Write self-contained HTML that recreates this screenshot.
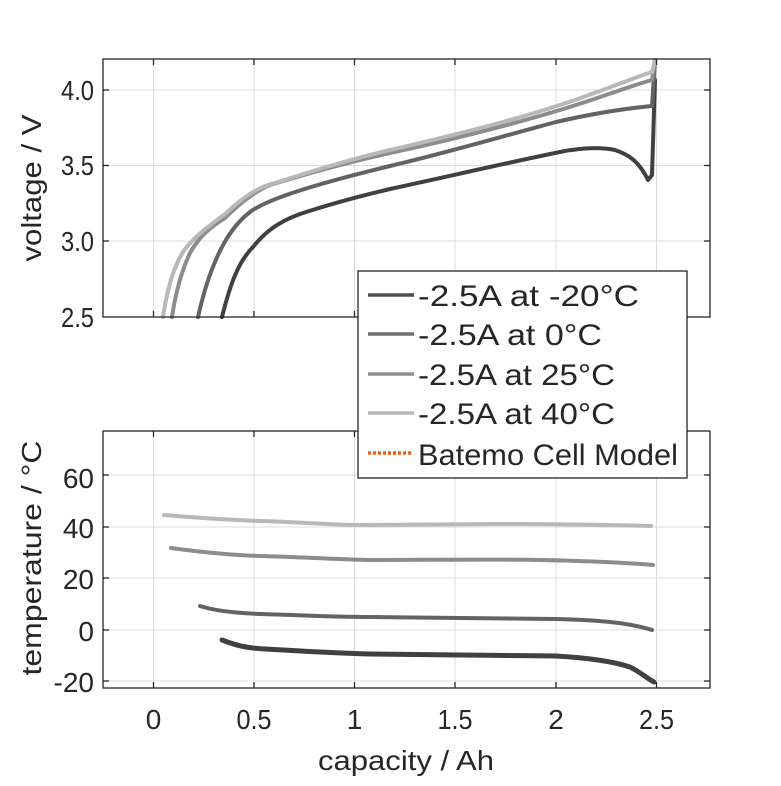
<!DOCTYPE html>
<html><head><meta charset="utf-8"><style>
html,body{margin:0;padding:0;background:#fff;}
svg text{font-family:"Liberation Sans",Arial,sans-serif;fill:#262626;}
</style></head><body>
<svg width="781" height="781" viewBox="0 0 781 781" xmlns="http://www.w3.org/2000/svg">
<rect width="781" height="781" fill="#fff"/>
<!-- top axes -->
<g stroke="#dcdcdc" stroke-width="1">
<line x1="153.5" y1="59" x2="153.5" y2="317"/><line x1="254" y1="59" x2="254" y2="317"/>
<line x1="354.5" y1="59" x2="354.5" y2="317"/><line x1="455" y1="59" x2="455" y2="317"/>
<line x1="556" y1="59" x2="556" y2="317"/><line x1="656.5" y1="59" x2="656.5" y2="317"/>
<line x1="103" y1="90" x2="710" y2="90"/><line x1="103" y1="165.5" x2="710" y2="165.5"/><line x1="103" y1="241" x2="710" y2="241"/>
</g>
<g fill="none" stroke-width="4" stroke-linejoin="round" stroke-linecap="round">
<path stroke="#404040" d="M222,317 C230,285 238,262 253,247 C265,232 278,222 300,214 C330,204 360,196 390,189 C450,176 520,160 560,152 C580,148 600,147 615,150 C630,155 640,163 648,180 L652,175 L655,80"/>
<path stroke="#636363" d="M198,317 C203,295 208,278 215,262 C222,245 233,225 250,212 C265,201 300,188 390,166 C450,152 500,137 556,122 C600,112 630,108 652,106 L655,60"/>
<path stroke="#8c8c8c" d="M172,317 C176,290 182,270 190,253 C200,235 212,226 225,218 C240,203 255,191 270,185 C300,176 340,164 390,153 C460,138 520,122 560,110 C600,98 630,86 652,80 L655,60"/>
<path stroke="#b8b8b8" d="M163,317 C167,290 173,268 183,252 C195,235 212,224 225,214 C240,200 255,188 275,183 C300,175 340,162 390,150 C460,134 520,118 560,105 C600,92 630,79 652,72 L655,60"/>
</g>
<rect x="103" y="59" width="607" height="258" fill="none" stroke="#262626" stroke-width="1.3"/>
<g stroke="#262626" stroke-width="1.3">
<line x1="153.5" y1="59" x2="153.5" y2="65"/><line x1="254" y1="59" x2="254" y2="65"/><line x1="354.5" y1="59" x2="354.5" y2="65"/><line x1="455" y1="59" x2="455" y2="65"/><line x1="556" y1="59" x2="556" y2="65"/><line x1="656.5" y1="59" x2="656.5" y2="65"/>
<line x1="153.5" y1="317" x2="153.5" y2="311"/><line x1="254" y1="317" x2="254" y2="311"/><line x1="354.5" y1="317" x2="354.5" y2="311"/><line x1="455" y1="317" x2="455" y2="311"/><line x1="556" y1="317" x2="556" y2="311"/><line x1="656.5" y1="317" x2="656.5" y2="311"/>
<line x1="103" y1="90" x2="109" y2="90"/><line x1="103" y1="165.5" x2="109" y2="165.5"/><line x1="103" y1="241" x2="109" y2="241"/>
<line x1="710" y1="90" x2="704" y2="90"/><line x1="710" y1="165.5" x2="704" y2="165.5"/><line x1="710" y1="241" x2="704" y2="241"/>
</g>
<g font-size="28" text-anchor="end">
<text x="94" y="100" textLength="33" lengthAdjust="spacingAndGlyphs">4.0</text><text x="94" y="175" textLength="33" lengthAdjust="spacingAndGlyphs">3.5</text><text x="94" y="251" textLength="33" lengthAdjust="spacingAndGlyphs">3.0</text><text x="94" y="327" textLength="33" lengthAdjust="spacingAndGlyphs">2.5</text>
</g>
<text x="0" y="0" font-size="28" text-anchor="middle" textLength="147" lengthAdjust="spacingAndGlyphs" transform="translate(41,188) rotate(-90)">voltage / V</text>

<!-- bottom axes -->
<g stroke="#dcdcdc" stroke-width="1">
<line x1="153.5" y1="431" x2="153.5" y2="688"/><line x1="254" y1="431" x2="254" y2="688"/>
<line x1="354.5" y1="431" x2="354.5" y2="688"/><line x1="455" y1="431" x2="455" y2="688"/>
<line x1="556" y1="431" x2="556" y2="688"/><line x1="656.5" y1="431" x2="656.5" y2="688"/>
<line x1="103" y1="475" x2="710" y2="475"/><line x1="103" y1="527" x2="710" y2="527"/><line x1="103" y1="578" x2="710" y2="578"/><line x1="103" y1="630" x2="710" y2="630"/><line x1="103" y1="681" x2="710" y2="681"/>
</g>
<g fill="none" stroke-width="4" stroke-linejoin="round" stroke-linecap="round">
<path stroke="#b8b8b8" d="M164,515 C200,518 230,520 260,521 C300,522 330,525 360,525 C400,525 450,524 500,524 C560,524 610,525 651,526"/>
<path stroke="#8c8c8c" d="M171,548 C200,552 230,555 260,556 C300,557 330,559 370,560 C420,560 480,559 540,560 C590,561 630,563 653,565"/>
<path stroke="#636363" d="M200,606 C215,611 235,613 260,614 C300,615 330,617 370,617 C430,618 500,618 556,619 C600,620 630,623 652,630"/>
<path stroke="#404040" stroke-width="5" d="M222,640 C235,645 245,648 265,649 C300,651 330,653 370,654 C430,655 500,655 556,656 C590,658 615,662 630,667 C640,672 645,677 654,682"/>
</g>
<rect x="103" y="431" width="607" height="257" fill="none" stroke="#262626" stroke-width="1.3"/>
<g stroke="#262626" stroke-width="1.3">
<line x1="153.5" y1="431" x2="153.5" y2="437"/><line x1="254" y1="431" x2="254" y2="437"/><line x1="354.5" y1="431" x2="354.5" y2="437"/><line x1="455" y1="431" x2="455" y2="437"/><line x1="556" y1="431" x2="556" y2="437"/><line x1="656.5" y1="431" x2="656.5" y2="437"/>
<line x1="153.5" y1="688" x2="153.5" y2="682"/><line x1="254" y1="688" x2="254" y2="682"/><line x1="354.5" y1="688" x2="354.5" y2="682"/><line x1="455" y1="688" x2="455" y2="682"/><line x1="556" y1="688" x2="556" y2="682"/><line x1="656.5" y1="688" x2="656.5" y2="682"/>
<line x1="103" y1="475" x2="109" y2="475"/><line x1="103" y1="527" x2="109" y2="527"/><line x1="103" y1="578" x2="109" y2="578"/><line x1="103" y1="630" x2="109" y2="630"/><line x1="103" y1="681" x2="109" y2="681"/>
<line x1="710" y1="475" x2="704" y2="475"/><line x1="710" y1="527" x2="704" y2="527"/><line x1="710" y1="578" x2="704" y2="578"/><line x1="710" y1="630" x2="704" y2="630"/><line x1="710" y1="681" x2="704" y2="681"/>
</g>
<g font-size="28" text-anchor="end">
<text x="94" y="488">60</text><text x="94" y="538">40</text><text x="94" y="589">20</text><text x="94" y="641">0</text><text x="94" y="692">-20</text>
</g>
<g font-size="28" text-anchor="middle">
<text x="153.5" y="729">0</text><text x="254" y="729" textLength="35" lengthAdjust="spacingAndGlyphs">0.5</text><text x="354.5" y="729">1</text><text x="455" y="729" textLength="35" lengthAdjust="spacingAndGlyphs">1.5</text><text x="556" y="729">2</text><text x="656.5" y="729" textLength="35" lengthAdjust="spacingAndGlyphs">2.5</text>
</g>
<text x="406" y="770" font-size="28" text-anchor="middle" textLength="176" lengthAdjust="spacingAndGlyphs">capacity / Ah</text>
<text x="0" y="0" font-size="28" text-anchor="middle" textLength="235" lengthAdjust="spacingAndGlyphs" transform="translate(41,558) rotate(-90)">temperature / °C</text>

<!-- legend -->
<rect x="358" y="271" width="329" height="207" fill="#fff" stroke="#262626" stroke-width="1.3"/>
<g stroke-width="3.5">
<line x1="368" y1="295" x2="414" y2="295" stroke="#505050"/>
<line x1="368" y1="334" x2="414" y2="334" stroke="#707070"/>
<line x1="368" y1="374" x2="414" y2="374" stroke="#909090"/>
<line x1="368" y1="413" x2="414" y2="413" stroke="#b8b8b8"/>
<line x1="368" y1="453" x2="412" y2="453" stroke="#f06010" stroke-dasharray="3,2"/>
</g>
<g font-size="30" fill="#000">
<text x="418" y="306" textLength="221" lengthAdjust="spacingAndGlyphs">-2.5A at -20°C</text>
<text x="418" y="345" textLength="184" lengthAdjust="spacingAndGlyphs">-2.5A at 0°C</text>
<text x="418" y="385" textLength="197" lengthAdjust="spacingAndGlyphs">-2.5A at 25°C</text>
<text x="418" y="424" textLength="197" lengthAdjust="spacingAndGlyphs">-2.5A at 40°C</text>
<text x="418" y="465" textLength="260" lengthAdjust="spacingAndGlyphs">Batemo Cell Model</text>
</g>
</svg>
</body></html>
